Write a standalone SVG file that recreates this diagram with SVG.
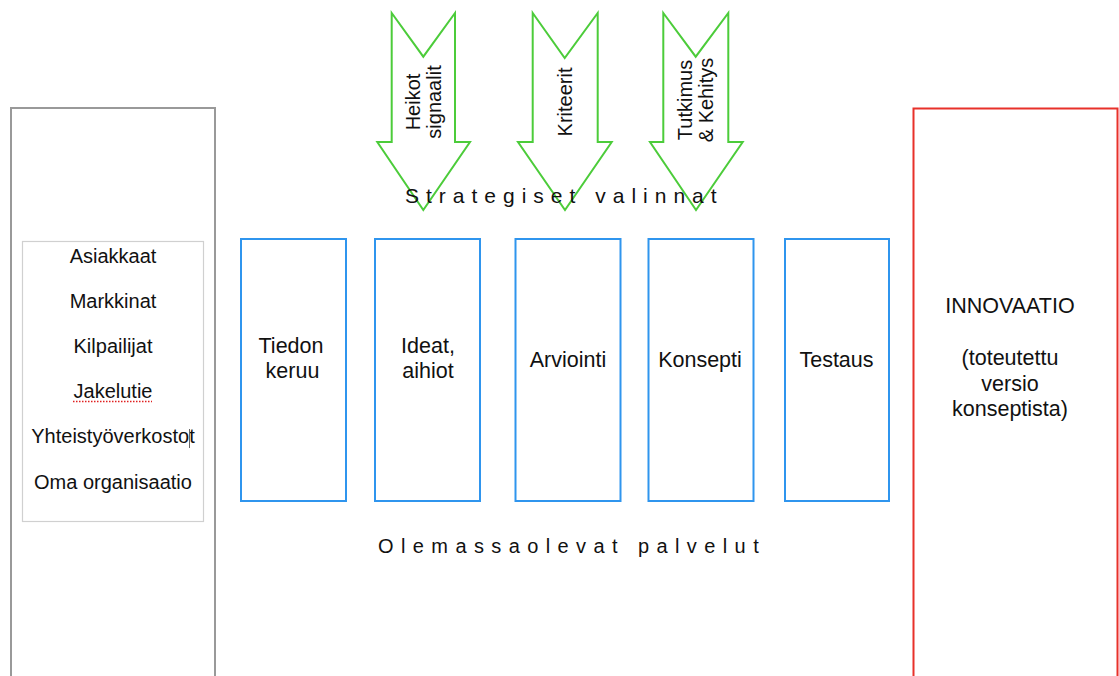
<svg xmlns="http://www.w3.org/2000/svg" width="1119" height="676" viewBox="0 0 1119 676">
  <style>
    text { font-family: "Liberation Sans", Arial, sans-serif; fill: #111; }
    .arrow { fill: #fff; stroke: #4ccc3a; stroke-width: 2; stroke-linejoin: miter; }
    .step { fill: #fff; stroke: #2f95ee; stroke-width: 2; }
    .list { font-size: 20px; text-anchor: middle; }
    .lbl { font-size: 21.5px; text-anchor: middle; }
    .rot { font-size: 20px; text-anchor: middle; }
    .spaced { font-size: 21px; letter-spacing: 7px; }
  </style>
  <rect width="1119" height="676" fill="#fff"/>

  <g id="left-panel">
    <rect x="11" y="108" width="204" height="600" fill="none" stroke="#999" stroke-width="2"/>
    <rect x="22.5" y="241.5" width="181" height="280" fill="#fff" stroke="#d0d0d0" stroke-width="1.2"/>
    <text class="list" x="113" y="263">Asiakkaat</text>
    <text class="list" x="113" y="308">Markkinat</text>
    <text class="list" x="113" y="353">Kilpailijat</text>
    <text class="list" x="113" y="398">Jakelutie</text>
    <line x1="73" y1="401.5" x2="152" y2="401.5" stroke="#e02020" stroke-width="1.5" stroke-dasharray="1.5 1.5"/>
    <text class="list" x="113" y="443">Yhteistyöverkostot</text>
    <line x1="189.5" y1="429" x2="189.5" y2="448" stroke="#666" stroke-width="1"/>
    <text class="list" x="113" y="489">Oma organisaatio</text>
  </g>

  <g id="innovation-panel">
    <rect x="913.5" y="108.5" width="204" height="600" fill="none" stroke="#e8312a" stroke-width="2"/>
    <text class="lbl" x="1010" y="313">INNOVAATIO</text>
    <text class="lbl" x="1010" y="365">(toteutettu</text>
    <text class="lbl" x="1010" y="391">versio</text>
    <text class="lbl" x="1010" y="416">konseptista)</text>
  </g>

  <g id="arrow-heikot">
    <path class="arrow" d="M391.7,13 L423.3,56.7 L455,13 L455,142 L470,142 L423.3,210 L377.3,142 L391.7,142 Z"/>
    <text class="rot" transform="translate(420,102) rotate(-90)">Heikot</text>
    <text class="rot" transform="translate(441,102) rotate(-90)">signaalit</text>
  </g>
  <g id="arrow-kriteerit">
    <path class="arrow" d="M532.7,13 L564.7,58 L597.7,13 L597.7,142 L611.7,142 L565,210 L518,142 L532.7,142 Z"/>
    <text class="rot" transform="translate(572,102) rotate(-90)">Kriteerit</text>
  </g>
  <g id="arrow-tk">
    <path class="arrow" d="M663.3,13 L695.7,56.7 L728.3,13 L728.3,142 L742.7,142 L696,210 L650,142 L663.3,142 Z"/>
    <text class="rot" transform="translate(691.5,100) rotate(-90)">Tutkimus</text>
    <text class="rot" transform="translate(712.5,100) rotate(-90)">&amp; Kehitys</text>
  </g>

  <g id="strategiset">
    <text class="spaced" x="405" y="203">Strategiset valinnat</text>
  </g>

  <g id="step-tiedon">
    <rect class="step" x="241" y="239" width="105" height="262"/>
    <text class="lbl" x="291" y="353">Tiedon</text>
    <text class="lbl" x="292.5" y="378">keruu</text>
  </g>
  <g id="step-ideat">
    <rect class="step" x="375" y="239" width="105" height="262"/>
    <text class="lbl" x="428" y="353">Ideat,</text>
    <text class="lbl" x="428" y="378">aihiot</text>
  </g>
  <g id="step-arviointi">
    <rect class="step" x="515.5" y="239" width="105" height="262"/>
    <text class="lbl" x="568" y="366.5">Arviointi</text>
  </g>
  <g id="step-konsepti">
    <rect class="step" x="648.5" y="239" width="105" height="262"/>
    <text class="lbl" x="700" y="366.5">Konsepti</text>
  </g>
  <g id="step-testaus">
    <rect class="step" x="785" y="239" width="104" height="262"/>
    <text class="lbl" x="836.5" y="366.5">Testaus</text>
  </g>

  <g id="olemassaolevat">
    <text x="378" y="553" style="font-size:20px;letter-spacing:7.4px">Olemassaolevat palvelut</text>
  </g>

  <g id="connectors"></g>
</svg>
